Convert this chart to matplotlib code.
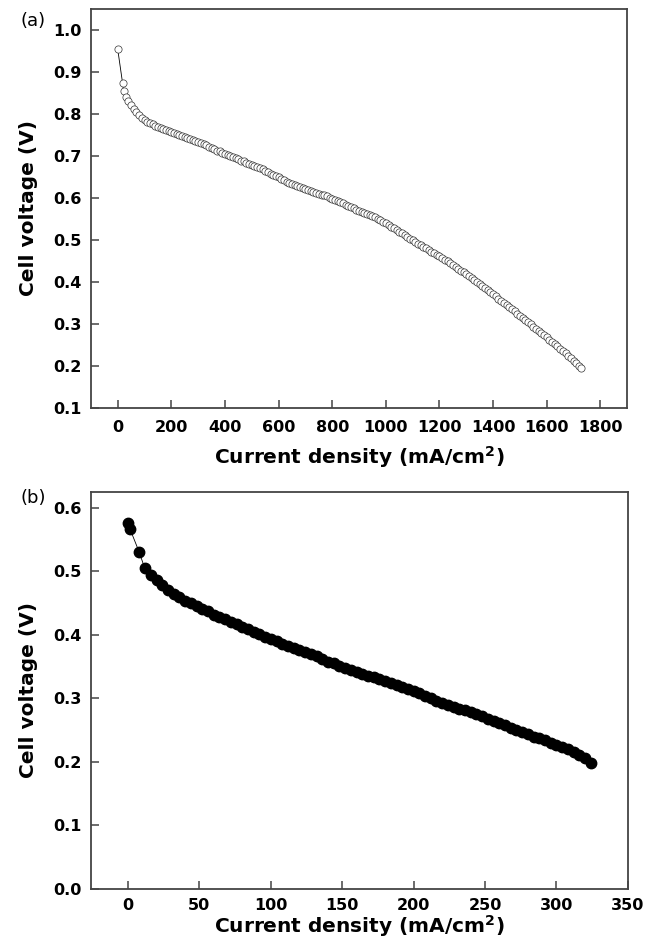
import matplotlib
matplotlib.use("Agg")
import matplotlib.pyplot as plt

plt.rcParams['font.family'] = ['DejaVu Sans']
plt.rcParams['mathtext.fontset'] = 'dejavusans'

## DATA - panel (a)
current_a = [0, 18, 22, 30, 40, 50, 60, 70, 80, 90,
             100, 110, 120, 130, 140, 150, 160, 170, 180, 190,
             200, 210, 220, 230, 240, 250, 260, 270, 280, 290,
             300, 310, 320, 330, 340, 350, 360, 370, 380, 390,
             400, 410, 420, 430, 440, 450, 460, 470, 480, 490,
             500, 510, 520, 530, 540, 550, 560, 570, 580, 590,
             600, 610, 620, 630, 640, 650, 660, 670, 680, 690,
             700, 710, 720, 730, 740, 750, 760, 770, 780, 790,
             800, 810, 820, 830, 840, 850, 860, 870, 880, 890,
             900, 910, 920, 930, 940, 950, 960, 970, 980, 990,
             1000, 1010, 1020, 1030, 1040, 1050, 1060, 1070, 1080, 1090,
             1100, 1110, 1120, 1130, 1140, 1150, 1160, 1170, 1180, 1190,
             1200, 1210, 1220, 1230, 1240, 1250, 1260, 1270, 1280, 1290,
             1300, 1310, 1320, 1330, 1340, 1350, 1360, 1370, 1380, 1390,
             1400, 1410, 1420, 1430, 1440, 1450, 1460, 1470, 1480, 1490,
             1500, 1510, 1520, 1530, 1540, 1550, 1560, 1570, 1580, 1590,
             1600, 1610, 1620, 1630, 1640, 1650, 1660, 1670, 1680, 1690,
             1700, 1710, 1720, 1728]
voltage_a = [0.954, 0.874, 0.854, 0.840, 0.831, 0.821, 0.812, 0.804, 0.797, 0.790,
             0.785, 0.781, 0.778, 0.775, 0.772, 0.770, 0.767, 0.764, 0.761, 0.759,
             0.757, 0.754, 0.752, 0.750, 0.748, 0.746, 0.744, 0.741, 0.738, 0.736,
             0.733, 0.731, 0.728, 0.725, 0.722, 0.719, 0.716, 0.713, 0.711, 0.708,
             0.705, 0.703, 0.700, 0.697, 0.695, 0.692, 0.689, 0.687, 0.684, 0.681,
             0.679, 0.676, 0.674, 0.671, 0.668, 0.665, 0.662, 0.658, 0.655, 0.652,
             0.649, 0.646, 0.642, 0.639, 0.636, 0.633, 0.631, 0.629, 0.627, 0.624,
             0.622, 0.620, 0.617, 0.615, 0.613, 0.610, 0.608, 0.606, 0.604, 0.601,
             0.598, 0.596, 0.593, 0.590, 0.587, 0.584, 0.581, 0.578, 0.575, 0.572,
             0.569, 0.567, 0.564, 0.562, 0.559, 0.557, 0.554, 0.551, 0.548, 0.544,
             0.540, 0.536, 0.532, 0.528, 0.524, 0.520, 0.516, 0.512, 0.507, 0.503,
             0.499, 0.495, 0.491, 0.487, 0.483, 0.480, 0.476, 0.472, 0.468, 0.464,
             0.461, 0.457, 0.453, 0.449, 0.445, 0.441, 0.436, 0.432, 0.427, 0.423,
             0.418, 0.414, 0.409, 0.404, 0.400, 0.395, 0.391, 0.386, 0.381, 0.376,
             0.371, 0.366, 0.360, 0.355, 0.350, 0.345, 0.340, 0.335, 0.330, 0.325,
             0.320, 0.315, 0.310, 0.305, 0.300, 0.294, 0.289, 0.284, 0.279, 0.274,
             0.268, 0.263, 0.258, 0.252, 0.247, 0.241, 0.236, 0.230, 0.225, 0.219,
             0.213, 0.207, 0.200, 0.195]

## DATA - panel (b)
current_b = [0, 1.5, 7.7, 11.7, 16, 20, 24, 28, 32, 36,
             40, 44, 48, 52, 56, 60, 64, 68, 72, 76,
             80, 84, 88, 92, 96, 100, 104, 108, 112, 116,
             120, 124, 128, 132, 136, 140, 144, 148, 152, 156,
             160, 164, 168, 172, 176, 180, 184, 188, 192, 196,
             200, 204, 208, 212, 216, 220, 224, 228, 232, 236,
             240, 244, 248, 252, 256, 260, 264, 268, 272, 276,
             280, 284, 288, 292, 296, 300, 304, 308, 312, 316,
             320, 324]
voltage_b = [0.576, 0.566, 0.531, 0.505, 0.494, 0.486, 0.478, 0.471, 0.465, 0.459,
             0.454, 0.450, 0.446, 0.441, 0.437, 0.432, 0.428, 0.425, 0.421, 0.417,
             0.413, 0.409, 0.405, 0.401, 0.397, 0.393, 0.390, 0.386, 0.383, 0.380,
             0.376, 0.373, 0.370, 0.366, 0.362, 0.358, 0.355, 0.351, 0.348, 0.345,
             0.342, 0.339, 0.336, 0.333, 0.330, 0.327, 0.324, 0.321, 0.318, 0.315,
             0.312, 0.308, 0.304, 0.300, 0.296, 0.293, 0.290, 0.287, 0.284, 0.281,
             0.279, 0.275, 0.272, 0.268, 0.265, 0.262, 0.258, 0.254, 0.250, 0.247,
             0.244, 0.240, 0.237, 0.234, 0.230, 0.227, 0.223, 0.220, 0.215, 0.211,
             0.206, 0.199]

xticks_a = [0, 200, 400, 600, 800, 1000, 1200, 1400, 1600, 1800]
yticks_a = [0.1, 0.2, 0.3, 0.4, 0.5, 0.6, 0.7, 0.8, 0.9, 1.0]
xticks_b = [0, 50, 100, 150, 200, 250, 300, 350]
yticks_b = [0.0, 0.1, 0.2, 0.3, 0.4, 0.5, 0.6]

XLABEL = "Current density (mA/cm$\\mathbf{^2}$)"
YLABEL = "Cell voltage (V)"


def style_axes(ax, xticks, yticks, xtickpad, xpad):
    """Common look: grey frame, inward ticks on bottom/left, bold labels."""
    for side in ax.spines.values():
        side.set_color('#444444')
        side.set_linewidth(1.3)
    ax.tick_params(direction='in', length=6, width=1.1, color='#444444',
                   top=False, right=False, labelsize=11.5)
    ax.tick_params(axis='x', pad=xtickpad)
    ax.tick_params(axis='y', pad=7)
    ax.set_xticks(xticks)
    ax.set_yticks(yticks)
    ax.set_yticklabels(["%.1f" % v for v in yticks])
    for lab in ax.get_xticklabels() + ax.get_yticklabels():
        lab.set_fontweight('bold')
    ax.set_xlabel(XLABEL, fontsize=14.5, fontweight='bold', labelpad=xpad)
    ax.set_ylabel(YLABEL, fontsize=14.5, fontweight='bold', labelpad=11)


fig = plt.figure(figsize=(6.54, 9.43), dpi=100)

# panel (a)
ax1 = fig.add_axes([0.139, 0.5673, 0.820, 0.4232])
ax1.plot(current_a, voltage_a, '-', color='black', linewidth=0.6,
         marker='o', markersize=5.2, markerfacecolor='white',
         markeredgecolor='#333333', markeredgewidth=0.5)
ax1.set_xlim(-100, 1900)
ax1.set_ylim(0.1, 1.05)
style_axes(ax1, xticks_a, yticks_a, 8.5, 7)
fig.text(0.0306, 0.9777, "(a)", fontsize=13, va='center')

# panel (b)
ax2 = fig.add_axes([0.139, 0.0573, 0.821, 0.4210])
ax2.plot(current_b, voltage_b, '-', color='black', linewidth=0.6,
         marker='o', markersize=7.5, markerfacecolor='black',
         markeredgecolor='black')
ax2.set_xlim(-26, 350)
ax2.set_ylim(0.0, 0.625)
style_axes(ax2, xticks_b, yticks_b, 6.5, 0)
fig.text(0.0306, 0.4719, "(b)", fontsize=13, va='center')

fig.savefig("out.png", dpi=100)
plt.close(fig)
